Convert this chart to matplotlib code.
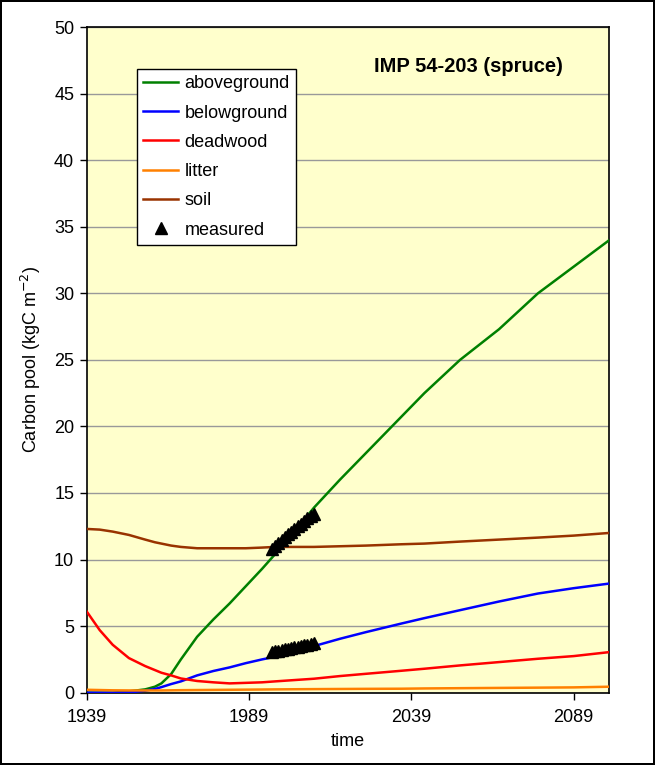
import matplotlib
matplotlib.use("Agg")
from matplotlib import pyplot as plt

years = [1939, 1943, 1947, 1952, 1957, 1960, 1962, 1965, 1968, 1973, 1978, 1983, 1988, 1993,
         1997, 2003, 2009, 2017, 2025, 2036, 2043, 2054, 2066, 2078, 2089, 2100]

aboveground = [0, 0, 0, 0.1, 0.25, 0.45, 0.7, 1.4, 2.5, 4.2, 5.5, 6.7, 8.0, 9.3,
               10.4, 12.1, 13.9, 16.0, 18.0, 20.75, 22.5, 25.0, 27.3, 30.0, 32.0, 34.0]
belowground = [0, 0, 0, 0.02, 0.15, 0.28, 0.42, 0.65, 0.85, 1.3, 1.63, 1.9, 2.22, 2.5,
               2.7, 3.1, 3.5, 4.05, 4.55, 5.2, 5.6, 6.2, 6.85, 7.45, 7.85, 8.2]
deadwood = [6.1, 4.7, 3.6, 2.6, 2.0, 1.7, 1.5, 1.3, 1.07, 0.88, 0.78, 0.7, 0.74, 0.78,
            0.85, 0.95, 1.05, 1.25, 1.42, 1.65, 1.8, 2.05, 2.3, 2.55, 2.75, 3.05]
litter = [0.22, 0.2, 0.18, 0.17, 0.17, 0.17, 0.17, 0.18, 0.19, 0.2, 0.21, 0.22, 0.23, 0.24,
          0.25, 0.26, 0.27, 0.28, 0.29, 0.3, 0.32, 0.34, 0.36, 0.38, 0.4, 0.45]
soil = [12.3, 12.25, 12.1, 11.85, 11.5, 11.3, 11.2, 11.05, 10.95, 10.85, 10.85, 10.85, 10.85, 10.9,
        10.95, 10.95, 10.95, 11.0, 11.05, 11.15, 11.2, 11.35, 11.5, 11.65, 11.8, 12.0]

meas_years = [1996, 1997, 1998, 1999, 2000, 2001, 2002, 2003, 2004, 2005, 2006, 2007, 2008, 2009]
meas_ag = [10.8, 11.0, 11.25, 11.45, 11.7, 11.9, 12.1, 12.3, 12.5, 12.7, 12.9, 13.1, 13.25, 13.4]
meas_bg = [3.05, 3.1, 3.15, 3.2, 3.25, 3.3, 3.35, 3.4, 3.45, 3.5, 3.55, 3.62, 3.68, 3.75]

xticks = [1939, 1989, 2039, 2089]
yticks = [0, 5, 10, 15, 20, 25, 30, 35, 40, 45, 50]

plt.rcParams['font.family'] = ['Liberation Sans', 'DejaVu Sans']

fig = plt.figure(figsize=(6.55, 7.65), dpi=100)
fig.patch.set_facecolor('white')
fig.patch.set_edgecolor('black')
fig.patch.set_linewidth(1.5)
ax = fig.add_axes([0.1324, 0.0945, 0.798, 0.8702])
ax.set_facecolor('#FFFFCC')

lw = 1.8
ax.plot(years, aboveground, color='#008000', lw=lw, label='aboveground', zorder=3)
ax.plot(years, belowground, color='#0000FF', lw=lw, label='belowground', zorder=3)
ax.plot(years, deadwood, color='#FF0000', lw=lw, label='deadwood', zorder=3)
ax.plot(years, litter, color='#FF8000', lw=lw, label='litter', zorder=3)
ax.plot(years, soil, color='#993300', lw=lw, label='soil', zorder=3)
ax.plot(meas_years, meas_ag, '^', color='black', ms=8, label='measured', zorder=4)
ax.plot(meas_years, meas_bg, '^', color='black', ms=8, zorder=4)

ax.set_xlim(1939, 2100)
ax.set_ylim(0, 50)
ax.set_xticks(xticks)
ax.set_yticks(yticks)
ax.yaxis.grid(True, color='#999999', lw=1)
ax.set_axisbelow(True)
for s in ax.spines.values():
    s.set_color('black')
    s.set_linewidth(1.2)
ax.tick_params(direction='out', length=5, width=1, labelsize=13, pad=4)
ax.tick_params(axis='x', pad=7)

ax.set_xlabel('time', fontsize=13, labelpad=5)
ax.set_ylabel('Carbon pool (kgC m$^{-2}$)', fontsize=13, labelpad=8)

ax.text(0.73, 0.94, 'IMP 54-203 (spruce)', transform=ax.transAxes, fontsize=14.5,
        fontweight='bold', ha='center', va='center')

leg = ax.legend(loc='upper left', bbox_to_anchor=(0.096, 0.937), borderaxespad=0,
                fontsize=13, frameon=True, fancybox=False, handlelength=1.95,
                handletextpad=0.35, labelspacing=0.68, borderpad=0.35)
leg.get_frame().set_edgecolor('black')
leg.get_frame().set_facecolor('white')
leg.get_frame().set_alpha(1)
leg.get_frame().set_linewidth(1)

fig.savefig('out.png', dpi=100)
